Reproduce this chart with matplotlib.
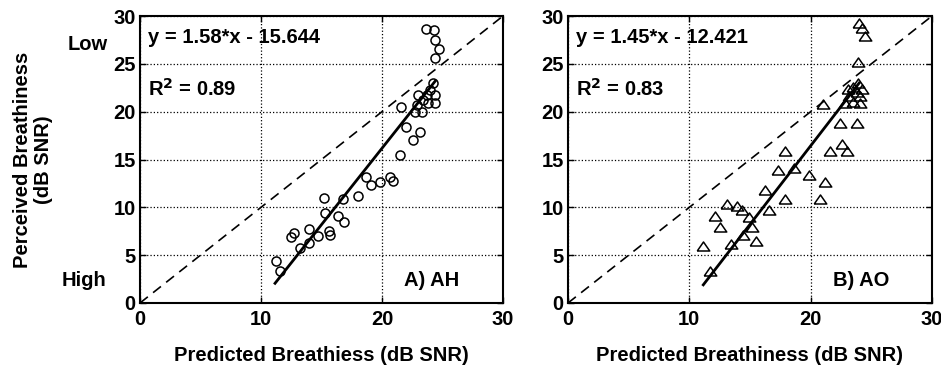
import matplotlib.pyplot as plt
import numpy as np

plt.rcParams['font.family'] = ['Liberation Sans', 'DejaVu Sans']
plt.rcParams['font.weight'] = 'bold'

# panel A) AH - predicted vs perceived (dB SNR)
ah_x = [23.6, 24.3, 24.4, 24.7, 24.4, 24.2, 24.0, 23.7, 23.0, 24.4, 23.4, 24.4, 23.8,
        22.9, 23.3, 22.7, 21.6, 22.0, 23.1, 22.6, 21.5, 18.7, 19.1, 19.8, 20.7, 20.9,
        18.0, 16.8, 15.2, 15.3, 16.4, 16.9, 12.7, 12.5, 14.0, 14.7, 15.6, 15.7, 13.2,
        14.0, 11.2, 11.6]
ah_y = [28.6, 28.5, 27.5, 26.6, 25.6, 23.0, 22.3, 21.7, 21.7, 21.7, 21.2, 20.9, 20.9,
        20.7, 20.0, 20.0, 20.5, 18.4, 17.9, 17.0, 15.5, 13.2, 12.3, 12.6, 13.2, 12.8,
        11.2, 10.9, 11.0, 9.4, 9.1, 8.5, 7.3, 6.9, 7.7, 7.0, 7.5, 7.1, 5.8,
        6.3, 4.4, 3.3]
ah_fit_x = [11.16, 24.4]
ah_fit_y = [2.06, 23.2]

# panel B) AO
ao_x = [24.0, 24.2, 24.5, 23.9, 23.9, 23.5, 24.2, 23.1, 23.8, 23.2, 24.1, 22.8, 24.1,
        23.5, 21.0, 22.4, 23.8, 22.6, 21.6, 23.0, 17.9, 17.3, 18.6, 19.9, 21.2, 16.2,
        17.9, 20.8, 13.1, 13.9, 14.3, 16.6, 14.9, 12.1, 12.5, 15.2, 14.4, 13.4, 15.5,
        11.1, 11.7]
ao_y = [29.3, 28.7, 27.9, 25.2, 23.0, 22.6, 22.4, 22.4, 22.1, 21.6, 21.6, 20.9, 20.9,
        21.0, 20.8, 18.8, 18.8, 16.6, 15.9, 15.9, 15.9, 13.9, 14.1, 13.4, 12.7, 11.8,
        10.9, 10.9, 10.4, 10.1, 9.7, 9.7, 9.0, 9.1, 7.9, 7.9, 7.1, 6.2, 6.5,
        6.0, 3.3]
ao_fit_x = [11.15, 24.0]
ao_fit_y = [1.9, 23.0]

identity = [0, 30]
xticks = [0, 10, 20, 30]
yticks = [0, 5, 10, 15, 20, 25, 30]

tri = [(-1, -0.72), (1, -0.72), (0, 0.72), (-1, -0.72)]

fs = 14.5

fig = plt.figure(figsize=(9.41, 3.68), dpi=100)
ax1 = fig.add_axes([140 / 941, 65 / 368, 363 / 941, 287 / 368])
ax2 = fig.add_axes([568 / 941, 65 / 368, 364 / 941, 287 / 368])

panels = [
    (ax1, ah_x, ah_y, ah_fit_x, ah_fit_y, 'o', 6.5, 'y = 1.58*x - 15.644', 'R$^\\mathbf{2}$ = 0.89', 'A) AH',
     'Predicted Breathiess (dB SNR)'),
    (ax2, ao_x, ao_y, ao_fit_x, ao_fit_y, tri, 9, 'y = 1.45*x - 12.421', 'R$^\\mathbf{2}$ = 0.83', 'B) AO',
     'Predicted Breathiness (dB SNR)'),
]

for ax, x, y, fx, fy, mk, ms, eq, r2, tag, xlab in panels:
    ax.plot(identity, identity, 'k--', lw=1.2, dashes=(6, 4))
    ax.plot(x, y, linestyle='none', marker=mk, ms=ms, mfc='none', mec='k', mew=1.1)
    ax.plot(fx, fy, 'k-', lw=2)
    ax.set_xlim(0, 30)
    ax.set_ylim(0, 30)
    ax.set_xticks(xticks)
    ax.set_yticks(yticks)
    ax.grid(True, color='k', linestyle=':', lw=0.9)
    ax.tick_params(direction='in', length=4, width=1, top=True, right=True, labelsize=fs)
    ax.tick_params(axis='x', pad=5)
    ax.tick_params(axis='y', pad=3)
    for lbl in ax.get_xticklabels() + ax.get_yticklabels():
        lbl.set_fontweight('bold')
    for sp in ax.spines.values():
        sp.set_linewidth(1.5)
    ax.text(0.7, 27.8, eq, fontsize=fs, fontweight='bold', va='center')
    ax.text(0.7, 22.4, r2, fontsize=fs, fontweight='bold', va='center')
    ax.text(21.8, 2.4, tag, fontsize=fs, fontweight='bold', va='center')
    ax.set_xlabel(xlab, fontsize=fs, fontweight='bold', labelpad=12)

fig.text(33 / 941, 1 - 160 / 368, 'Perceived Breathiness\n(dB SNR)', rotation=90, ha='center', va='center',
         fontsize=fs, fontweight='bold', multialignment='center', linespacing=1.1)
fig.text(88 / 941, 1 - 45 / 368, 'Low', ha='center', va='center', fontsize=fs, fontweight='bold')
fig.text(84 / 941, 1 - 281 / 368, 'High', ha='center', va='center', fontsize=fs, fontweight='bold')

fig.savefig('out.png', dpi=100)
